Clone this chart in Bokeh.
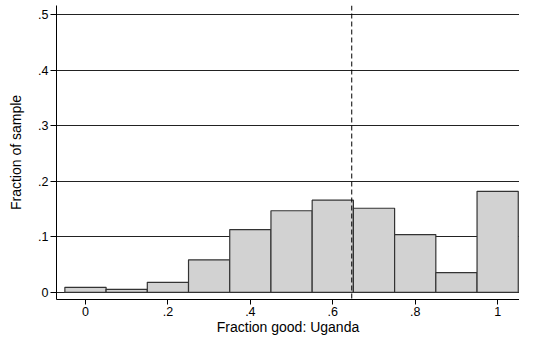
from bokeh.plotting import figure
from bokeh.models import Range1d, Span, FixedTicker
from bokeh.embed import file_html
from bokeh.resources import INLINE

# Data
bin_centers = [0.0, 0.1, 0.2, 0.3, 0.4, 0.5, 0.6, 0.7, 0.8, 0.9, 1.0]
fractions = [0.009, 0.0053, 0.018, 0.0586, 0.113, 0.147, 0.166, 0.1515, 0.104, 0.0354, 0.182]
bin_width = 0.1
mean_line = 0.646

x_ticks = [0, 0.2, 0.4, 0.6, 0.8, 1]
x_tick_labels = ["0", ".2", ".4", ".6", ".8", "1"]
y_ticks = [0, 0.1, 0.2, 0.3, 0.4, 0.5]
y_tick_labels = ["0", ".1", ".2", ".3", ".4", ".5"]

FONT = "Liberation Sans"

p = figure(
    width=519, height=337,
    x_range=Range1d(-0.0703, 1.053),
    y_range=Range1d(-0.013, 0.517),
    output_backend="svg", toolbar_location=None,
    min_border_left=56, min_border_right=0, min_border_top=5, min_border_bottom=38,
)
p.outline_line_color = None
p.background_fill_color = "white"
p.border_fill_color = "white"

p.vbar(x=bin_centers, top=fractions, bottom=0, width=bin_width,
       fill_color="#d2d2d2", line_color="#333333", line_width=1.2)

p.add_layout(Span(location=mean_line, dimension="height", line_color="black",
                  line_width=1, line_dash="5 3"))

# Grid
p.xgrid.visible = False
p.ygrid.ticker = FixedTicker(ticks=y_ticks)
p.ygrid.grid_line_color = "#222222"
p.ygrid.grid_line_width = 1

# Axes
p.xaxis.ticker = FixedTicker(ticks=x_ticks)
p.xaxis.major_label_overrides = {t: l for t, l in zip(x_ticks, x_tick_labels)}
p.yaxis.ticker = FixedTicker(ticks=y_ticks)
p.yaxis.major_label_overrides = {t: l for t, l in zip(y_ticks, y_tick_labels)}

for ax in (p.xaxis[0], p.yaxis[0]):
    ax.axis_line_color = "black"
    ax.axis_line_width = 1
    ax.major_tick_line_color = "black"
    ax.minor_tick_line_color = None
    ax.major_tick_in = 0
    ax.major_label_text_font = FONT
    ax.major_label_text_font_size = "12.5px"
    ax.major_label_text_color = "black"
    ax.axis_label_text_font = FONT
    ax.axis_label_text_font_size = "14px"
    ax.axis_label_text_font_style = "normal"
    ax.axis_label_text_color = "black"

p.xaxis.major_tick_out = 5
p.xaxis.major_label_standoff = 2
p.xaxis.axis_label = "Fraction good: Uganda"
p.xaxis.axis_label_standoff = 0

p.yaxis.major_tick_out = 6
p.yaxis.major_label_standoff = 2
p.yaxis.major_label_orientation = "horizontal"
p.yaxis.axis_label = "Fraction of sample"
p.yaxis.axis_label_standoff = 11

open("out.html", "w").write(file_html(p, INLINE))
